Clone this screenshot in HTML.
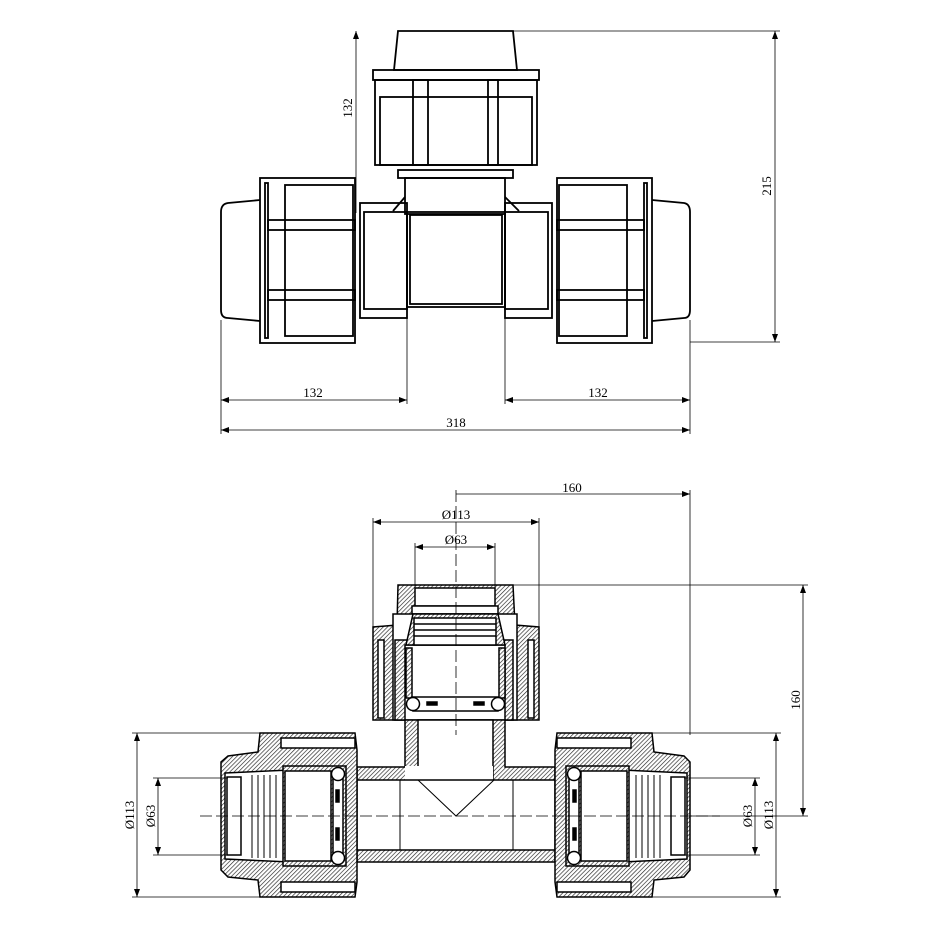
<!DOCTYPE html>
<html><head><style>body{margin:0;background:#fff}svg{display:block}</style></head><body>
<svg width="930" height="930" viewBox="0 0 930 930" xmlns="http://www.w3.org/2000/svg" font-family="Liberation Serif, serif" font-size="13">
<defs>
<pattern id="h" width="3" height="3" patternUnits="userSpaceOnUse" patternTransform="rotate(45)"><rect width="3" height="3" fill="#fff"/><line x1="0" y1="0" x2="0" y2="3" stroke="#222" stroke-width="1.3"/></pattern>
<marker id="a" markerWidth="8" markerHeight="6" refX="8" refY="3" orient="auto-start-reverse" markerUnits="userSpaceOnUse"><path d="M0,0 L8,3 L0,6z" fill="#000"/></marker>
</defs>
<g fill="none" stroke="#000" stroke-width="1.8">
<!-- TOP VIEW -->
<path d="M398,31 L513,31 L517,70 L394,70Z" fill="#fff"/>
<rect x="373" y="70" width="166" height="10"/>
<rect x="375" y="80" width="162" height="85"/>
<rect x="380" y="97" width="152" height="68"/>
<rect x="413" y="80" width="15" height="85"/>
<rect x="488" y="80" width="10" height="85"/>
<rect x="398" y="170" width="115" height="8"/>
<rect x="405" y="178" width="100" height="36"/>
<path d="M393,211 L405,197 M519,211 L505,197"/>
<rect x="407" y="212" width="98" height="95"/>
<rect x="410" y="215" width="92" height="89"/>
<rect x="360" y="203" width="47" height="115"/>
<rect x="364" y="212" width="43" height="97"/>
<rect x="505" y="203" width="47" height="115"/>
<rect x="505" y="212" width="43" height="97"/>
<!-- left nut -->
<rect x="260" y="178" width="95" height="165"/>
<rect x="265" y="183" width="3" height="155"/>
<rect x="285" y="185" width="68" height="151"/>
<rect x="268" y="220" width="87" height="10"/>
<rect x="268" y="290" width="87" height="10"/>
<path d="M260,200 L228,203 Q221,204 221,212 L221,310 Q221,318 228,318 L260,321"/>
<!-- right nut -->
<rect x="557" y="178" width="95" height="165"/>
<rect x="644" y="183" width="3" height="155"/>
<rect x="559" y="185" width="68" height="151"/>
<rect x="557" y="220" width="87" height="10"/>
<rect x="557" y="290" width="87" height="10"/>
<path d="M652,200 L684,203 Q690,204 690,212 L690,310 Q690,318 684,318 L652,321"/>
</g>
<g stroke="#000" stroke-width="0.8" fill="none">
<line x1="356" y1="31" x2="356" y2="213" marker-start="url(#a)"/>
<line x1="513" y1="31" x2="780" y2="31"/>
<line x1="690" y1="342" x2="780" y2="342"/>
<line x1="775" y1="31" x2="775" y2="342" marker-start="url(#a)" marker-end="url(#a)"/>
<line x1="221" y1="320" x2="221" y2="434"/>
<line x1="407" y1="307" x2="407" y2="404"/>
<line x1="505" y1="307" x2="505" y2="404"/>
<line x1="690" y1="320" x2="690" y2="434"/>
<line x1="221" y1="400" x2="407" y2="400" marker-start="url(#a)" marker-end="url(#a)"/>
<line x1="505" y1="400" x2="690" y2="400" marker-start="url(#a)" marker-end="url(#a)"/>
<line x1="221" y1="430" x2="690" y2="430" marker-start="url(#a)" marker-end="url(#a)"/>
</g>
<g fill="#000">
<text x="313" y="397" text-anchor="middle">132</text>
<text x="598" y="397" text-anchor="middle">132</text>
<text x="456" y="427" text-anchor="middle">318</text>
<text transform="translate(352,108) rotate(-90)" text-anchor="middle">132</text>
<text transform="translate(771,186) rotate(-90)" text-anchor="middle">215</text>
</g>
<!-- BOTTOM VIEW -->
<g stroke="#000" stroke-width="1.5">
<!-- top nut -->
<path d="M398,585 L513,585 L515,625 L539,627 L539,720 L373,720 L373,627 L397,625Z" fill="url(#h)"/>
<rect x="415" y="588" width="80" height="18" fill="#fff"/>
<rect x="412" y="606" width="86" height="8" fill="#fff"/>
<rect x="393" y="614" width="124" height="106" fill="#fff"/>
<rect x="395" y="640" width="118" height="80" fill="url(#h)"/>
<rect x="405" y="645" width="100" height="75" fill="#fff"/>
<rect x="406" y="648" width="6" height="50" fill="url(#h)"/>
<rect x="499" y="648" width="6" height="50" fill="url(#h)"/>
<path d="M413,614 L498,614 L505,645 L406,645Z" fill="url(#h)"/>
<rect x="414" y="618" width="82" height="27" fill="#fff"/>
<path d="M414,624 H496 M414,630 H496 M414,636 H496" fill="none"/>
<rect x="413" y="697" width="85" height="14" fill="#fff"/>
<circle cx="413" cy="704" r="6.5" fill="#fff"/><circle cx="498" cy="704" r="6.5" fill="#fff"/>
<rect x="378" y="640" width="6" height="78" fill="#fff"/>
<rect x="528" y="640" width="6" height="78" fill="#fff"/>
<!-- neck -->
<path d="M405,720 L505,720 L505,767 L555,767 L555,862 L357,862 L357,767 L405,767Z" fill="url(#h)"/>
<rect x="418" y="720" width="75" height="62" fill="#fff"/>
<path d="M418,766 L405,766 L405,780 L398,780 L398,850 L514,850 L514,780 L493,780 L493,766Z" fill="#fff" stroke="none"/>
<rect x="357" y="780" width="198" height="70" fill="#fff"/>
<path d="M400,780 V850 M513,780 V850 M418,780 L456,816 L494,780" fill="none" stroke-width="1"/>
<!-- left nut -->
<path d="M260,733 L355,733 L357,750 L357,882 L355,897 L260,897 L258,880 L228,877 L221,870 L221,762 L228,756 L258,752Z" fill="url(#h)"/>
<rect x="281" y="738" width="74" height="10" fill="#fff"/>
<rect x="281" y="882" width="74" height="10" fill="#fff"/>
<path d="M225,773 L290,770 L290,862 L225,859Z" fill="#fff"/>
<rect x="227" y="777" width="14" height="78" fill="#fff"/>
<path d="M252,775 V858 M258,775 V858 M264,775 V858 M270,775 V858 M276,775 V858" fill="none" stroke-width="1"/>
<rect x="283" y="766" width="63" height="100" fill="url(#h)"/>
<rect x="285" y="771" width="46" height="90" fill="#fff"/>
<rect x="333" y="775" width="10" height="82" fill="#fff"/>
<circle cx="338" cy="774" r="6.5" fill="#fff"/><circle cx="338" cy="858" r="6.5" fill="#fff"/>
<rect x="336" y="790" width="3" height="12" fill="#000"/><rect x="336" y="828" width="3" height="12" fill="#000"/>
<!-- right nut -->
<path d="M652,733 L557,733 L555,750 L555,882 L557,897 L652,897 L654,880 L684,877 L690,870 L690,762 L684,756 L654,752Z" fill="url(#h)"/>
<rect x="557" y="738" width="74" height="10" fill="#fff"/>
<rect x="557" y="882" width="74" height="10" fill="#fff"/>
<path d="M687,773 L622,770 L622,862 L687,859Z" fill="#fff"/>
<rect x="671" y="777" width="14" height="78" fill="#fff"/>
<path d="M636,775 V858 M642,775 V858 M648,775 V858 M654,775 V858 M660,775 V858" fill="none" stroke-width="1"/>
<rect x="566" y="766" width="63" height="100" fill="url(#h)"/>
<rect x="581" y="771" width="46" height="90" fill="#fff"/>
<rect x="569" y="775" width="10" height="82" fill="#fff"/>
<circle cx="574" cy="774" r="6.5" fill="#fff"/><circle cx="574" cy="858" r="6.5" fill="#fff"/>
<rect x="573" y="790" width="3" height="12" fill="#000"/><rect x="573" y="828" width="3" height="12" fill="#000"/>
<rect x="427" y="702" width="10" height="3" fill="#000"/><rect x="474" y="702" width="10" height="3" fill="#000"/>
</g>
<g stroke="#000" stroke-width="0.8" fill="none">
<line x1="456" y1="490" x2="456" y2="735" stroke-dasharray="12,4"/>
<line x1="200" y1="816" x2="720" y2="816" stroke-dasharray="12,4"/>
<line x1="456" y1="494" x2="690" y2="494" marker-end="url(#a)"/>
<line x1="690" y1="490" x2="690" y2="735"/>
<line x1="373" y1="518" x2="373" y2="627"/><line x1="539" y1="518" x2="539" y2="627"/>
<line x1="373" y1="522" x2="539" y2="522" marker-start="url(#a)" marker-end="url(#a)"/>
<line x1="415" y1="543" x2="415" y2="588"/><line x1="495" y1="543" x2="495" y2="588"/>
<line x1="415" y1="547" x2="495" y2="547" marker-start="url(#a)" marker-end="url(#a)"/>
<line x1="513" y1="585" x2="808" y2="585"/>
<line x1="690" y1="816" x2="808" y2="816"/>
<line x1="803" y1="585" x2="803" y2="816" marker-start="url(#a)" marker-end="url(#a)"/>
<line x1="132" y1="733" x2="260" y2="733"/><line x1="132" y1="897" x2="260" y2="897"/>
<line x1="137" y1="733" x2="137" y2="897" marker-start="url(#a)" marker-end="url(#a)"/>
<line x1="153" y1="778" x2="228" y2="778"/><line x1="153" y1="855" x2="228" y2="855"/>
<line x1="158" y1="778" x2="158" y2="855" marker-start="url(#a)" marker-end="url(#a)"/>
<line x1="652" y1="733" x2="781" y2="733"/><line x1="652" y1="897" x2="781" y2="897"/>
<line x1="776" y1="733" x2="776" y2="897" marker-start="url(#a)" marker-end="url(#a)"/>
<line x1="684" y1="778" x2="760" y2="778"/><line x1="684" y1="855" x2="760" y2="855"/>
<line x1="755" y1="778" x2="755" y2="855" marker-start="url(#a)" marker-end="url(#a)"/>
</g>
<g fill="#000">
<text x="572" y="492" text-anchor="middle">160</text>
<text x="456" y="519" text-anchor="middle">Ø113</text>
<text x="456" y="544" text-anchor="middle">Ø63</text>
<text transform="translate(800,700) rotate(-90)" text-anchor="middle">160</text>
<text transform="translate(134,815) rotate(-90)" text-anchor="middle">Ø113</text>
<text transform="translate(155,816) rotate(-90)" text-anchor="middle">Ø63</text>
<text transform="translate(752,816) rotate(-90)" text-anchor="middle">Ø63</text>
<text transform="translate(773,815) rotate(-90)" text-anchor="middle">Ø113</text>
</g>
</svg>
</body></html>
